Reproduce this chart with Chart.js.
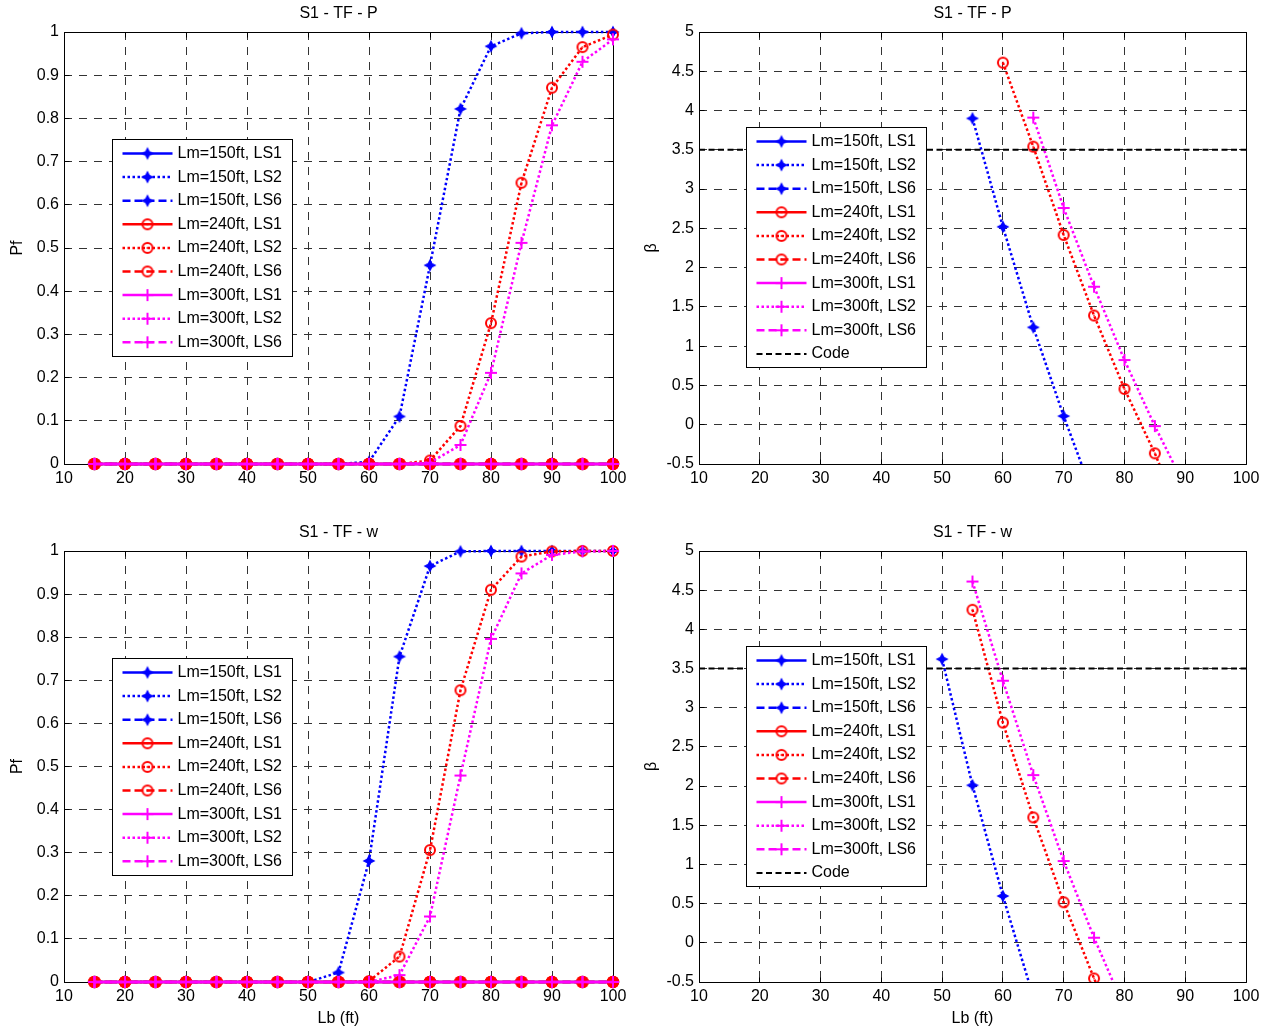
<!DOCTYPE html>
<html>
<head>
<meta charset="utf-8">
<title>S1 - TF reliability</title>
<script src="https://cdn.jsdelivr.net/npm/chart.js"></script>
<style>
  html, body { margin: 0; padding: 0; background: #fff; overflow: hidden; }
  #fig { position: relative; width: 1270px; height: 1031px; }
  .panel { position: absolute; }
  .panel canvas { display: block; }
</style>
</head>
<body>
<div id="fig">
  <div class="panel" style="left:0;top:0"><canvas id="pfP" width="640" height="516"></canvas></div>
  <div class="panel" style="left:640px;top:0"><canvas id="betaP" width="630" height="516"></canvas></div>
  <div class="panel" style="left:0;top:516px"><canvas id="pfW" width="640" height="515"></canvas></div>
  <div class="panel" style="left:640px;top:516px"><canvas id="betaW" width="630" height="515"></canvas></div>
</div>
<script>
// Bridge length Lb (ft) at which every case was evaluated
const lb = [15, 20, 25, 30, 35, 40, 45, 50, 55, 60, 65, 70, 75, 80, 85, 90, 95, 100];

// Axis ticks
const xTicks = [10, 20, 30, 40, 50, 60, 70, 80, 90, 100];
const pfTicks = [0, 0.1, 0.2, 0.3, 0.4, 0.5, 0.6, 0.7, 0.8, 0.9, 1];
const betaTicks = [-0.5, 0, 0.5, 1, 1.5, 2, 2.5, 3, 3.5, 4, 4.5, 5];

// Series names
const lmNames = ['Lm=150ft', 'Lm=240ft', 'Lm=300ft'];
const lsNames = ['LS1', 'LS2', 'LS6'];

// LS1 and LS6 never fail over this range: Pf = 0, beta unbounded (not drawn)
const pfNoFail = [0, 0, 0, 0, 0, 0, 0, 0, 0, 0, 0, 0, 0, 0, 0, 0, 0, 0];
const betaNoFail = [null, null, null, null, null, null, null, null, null, null, null, null, null, null, null, null, null, null];

// Probability of failure, TF - P, LS2
const pfP150LS2 = [0, 0, 0, 0, 0, 0, 0, 0, 0, 0.005, 0.11, 0.46, 0.822, 0.967, 0.997, 1, 1, 1];
const pfP240LS2 = [0, 0, 0, 0, 0, 0, 0, 0, 0, 0, 0, 0.008, 0.088, 0.326, 0.651, 0.871, 0.965, 0.994];
const pfP300LS2 = [0, 0, 0, 0, 0, 0, 0, 0, 0, 0, 0, 0.003, 0.044, 0.211, 0.512, 0.784, 0.931, 0.983];

// Reliability index, TF - P, LS2
const betaP150LS2 = [null, null, null, null, null, null, null, null, 3.90, 2.52, 1.24, 0.11, -0.93, null, null, null, null, null];
const betaP240LS2 = [null, null, null, null, null, null, null, null, null, 4.61, 3.54, 2.415, 1.39, 0.455, -0.364, -1.3, null, null];
const betaP300LS2 = [null, null, null, null, null, null, null, null, null, null, 3.91, 2.76, 1.757, 0.824, -0.017, -0.79, null, null];

// Probability of failure, TF - w, LS2
const pfW150LS2 = [0, 0, 0, 0, 0, 0, 0, 0, 0.022, 0.281, 0.755, 0.965, 0.999, 1, 1, 1, 1, 1];
const pfW240LS2 = [0, 0, 0, 0, 0, 0, 0, 0, 0, 0.002, 0.059, 0.306, 0.677, 0.910, 0.987, 0.999, 1, 1];
const pfW300LS2 = [0, 0, 0, 0, 0, 0, 0, 0, 0, 0, 0.016, 0.152, 0.479, 0.796, 0.948, 0.991, 0.999, 1];

// Reliability index, TF - w, LS2
const betaW150LS2 = [null, null, null, null, null, null, null, 3.62, 2.01, 0.597, -0.69, null, null, null, null, null, null, null];
const betaW240LS2 = [null, null, null, null, null, null, null, null, 4.25, 2.81, 1.60, 0.517, -0.455, -1.34, null, null, null, null];
const betaW300LS2 = [null, null, null, null, null, null, null, null, 4.61, 3.345, 2.14, 1.044, 0.065, -0.83, null, null, null, null];

// Code target reliability
const codeLb = [10, 100];
const codeBeta = [3.5, 3.5];

// ---------------------------------------------------------------------------
const FONT = '"Liberation Sans", Arial, Helvetica, sans-serif';
const FONT_SIZE = 16;
const BLUE = '#0000ff', RED = '#ff0000', MAGENTA = '#ff00ff';
const lineDash = { LS1: [], LS2: [2.5, 2.5], LS6: [8, 4] };

Chart.defaults.font.family = FONT;
Chart.defaults.font.size = FONT_SIZE;
Chart.defaults.color = '#000';

// Marker glyphs drawn once on small canvases
function glyph(draw) {
  const c = document.createElement('canvas');
  c.width = 16; c.height = 16;
  const g = c.getContext('2d');
  g.translate(8, 8);
  draw(g);
  return c;
}
const mkStar = glyph(g => {
  g.fillStyle = BLUE;
  g.beginPath();
  g.moveTo(0, -6.5); g.lineTo(2.2, -2.2); g.lineTo(6.5, 0); g.lineTo(2.2, 2.2);
  g.lineTo(0, 6.5); g.lineTo(-2.2, 2.2); g.lineTo(-6.5, 0); g.lineTo(-2.2, -2.2);
  g.closePath();
  g.fill();
});
const mkRing = glyph(g => {
  g.strokeStyle = RED; g.lineWidth = 2;
  g.beginPath(); g.arc(0, 0, 5, 0, Math.PI * 2); g.stroke();
  g.fillStyle = RED; g.fillRect(-0.8, -0.8, 1.6, 1.6);
});
const mkDisc = glyph(g => {
  g.fillStyle = RED;
  g.beginPath(); g.arc(0, 0, 6.2, 0, Math.PI * 2); g.fill();
});
const mkPlus = glyph(g => {
  g.strokeStyle = MAGENTA; g.lineWidth = 2;
  g.beginPath();
  g.moveTo(-6, 0); g.lineTo(6, 0); g.moveTo(0, -6); g.lineTo(0, 6);
  g.stroke();
});

// Axes box with inward ticks on all four sides, plus the panel title
const frame = {
  id: 'frame',
  beforeDatasetsDraw(chart) {
    const { ctx, chartArea: a, scales } = chart;
    const al = v => Math.round(v - 0.5) + 0.5;
    const L = al(a.left), R = al(a.right), T = al(a.top), B = al(a.bottom);
    ctx.save();
    ctx.strokeStyle = '#000';
    ctx.lineWidth = 1;
    ctx.setLineDash([]);
    ctx.beginPath();
    ctx.rect(L, T, R - L, B - T);
    scales.x.ticks.forEach(t => {
      const px = al(scales.x.getPixelForValue(t.value));
      ctx.moveTo(px, B); ctx.lineTo(px, B - 5);
      ctx.moveTo(px, T); ctx.lineTo(px, T + 5);
    });
    scales.y.ticks.forEach(t => {
      const py = al(scales.y.getPixelForValue(t.value));
      ctx.moveTo(L, py); ctx.lineTo(L + 5, py);
      ctx.moveTo(R, py); ctx.lineTo(R - 5, py);
    });
    ctx.stroke();
    ctx.restore();
  },
  afterDraw(chart, args, opts) {
    const { ctx, chartArea: a } = chart;
    ctx.save();
    ctx.fillStyle = '#000';
    ctx.font = FONT_SIZE + 'px ' + FONT;
    ctx.textAlign = 'center';
    ctx.textBaseline = 'middle';
    ctx.fillText(opts.text, (a.left + a.right) / 2, a.top - 18);
    ctx.restore();
  }
};

// Boxed legend inside the axes
const boxLegend = {
  id: 'boxLegend',
  afterDatasetsDraw(chart, args, opts) {
    const { ctx, chartArea: a } = chart;
    const items = chart.data.datasets;
    const rowH = 23.6;
    const x0 = Math.round(a.left + opts.dx) + 0.5;
    const y0 = Math.round(a.top + opts.dy) + 0.5;
    const w = 180, h = Math.round(28 + (items.length - 1) * rowH);
    ctx.save();
    ctx.fillStyle = '#fff';
    ctx.fillRect(x0, y0, w, h);
    ctx.strokeStyle = '#000';
    ctx.lineWidth = 1;
    ctx.setLineDash([]);
    ctx.strokeRect(x0, y0, w, h);
    items.forEach((ds, i) => {
      const y = y0 + 14 + i * rowH;
      ctx.strokeStyle = ds.borderColor;
      ctx.lineWidth = ds.borderWidth;
      ctx.setLineDash(ds.borderDash || []);
      ctx.beginPath();
      ctx.moveTo(x0 + 10, y);
      ctx.lineTo(x0 + 60, y);
      ctx.stroke();
      ctx.setLineDash([]);
      if (ds.legendMarker) ctx.drawImage(ds.legendMarker, x0 + 35 - 8, y - 8);
      ctx.fillStyle = '#000';
      ctx.font = FONT_SIZE + 'px ' + FONT;
      ctx.textAlign = 'left';
      ctx.textBaseline = 'middle';
      ctx.fillText(ds.label, x0 + 65, y);
    });
    ctx.restore();
  }
};

// Nine curves per panel: three main spans x three limit states
function series(groups, pfPanel) {
  const colors = [BLUE, RED, MAGENTA];
  const marks = [mkStar, mkRing, mkPlus];
  const out = [];
  lmNames.forEach((lm, a) => {
    lsNames.forEach((ls, b) => {
      let mk = marks[a];
      if (pfPanel && a === 1 && b !== 1) mk = mkDisc;
      out.push({ label: lm + ', ' + ls, values: groups[a][b], color: colors[a],
                 dash: lineDash[ls], marker: mk, legendMarker: marks[a] });
    });
  });
  return out;
}

function makePanel(id, p) {
  const n = p.series.length;
  const datasets = p.series.map((s, i) => ({
    label: s.label,
    data: lb.map((x, k) => ({ x: x, y: s.values[k] })),
    borderColor: s.color,
    backgroundColor: s.color,
    borderWidth: 2.5,
    borderDash: s.dash,
    borderCapStyle: 'butt',
    pointStyle: s.marker,
    pointRadius: 6,
    pointHoverRadius: 6,
    legendMarker: s.legendMarker,
    order: n - i + 1,
    clip: p.clip,
    tension: 0,
    fill: false
  }));
  if (p.code) {
    datasets.push({
      label: 'Code',
      data: codeLb.map((x, k) => ({ x: x, y: codeBeta[k] })),
      borderColor: '#000',
      backgroundColor: '#000',
      borderWidth: 2,
      borderDash: [6, 3.5],
      pointRadius: 0,
      legendMarker: null,
      order: 0,
      clip: p.clip,
      fill: false
    });
  }
  const tickFont = { family: FONT, size: FONT_SIZE };
  new Chart(document.getElementById(id), {
    type: 'line',
    data: { datasets: datasets },
    options: {
      responsive: false,
      animation: false,
      events: [],
      layout: { padding: { left: 0, top: p.top, right: p.right, bottom: 0 } },
      plugins: {
        legend: { display: false },
        tooltip: { enabled: false },
        frame: { text: p.title },
        boxLegend: { dx: p.legendDx, dy: p.legendDy }
      },
      scales: {
        x: {
          type: 'linear',
          min: 10, max: 100,
          afterBuildTicks: s => { s.ticks = xTicks.map(v => ({ value: v })); },
          afterFit: s => { s.height = p.xHeight; },
          grid: { color: '#333', lineWidth: 1, drawTicks: false },
          border: { display: false, dash: [8, 7] },
          ticks: { font: tickFont, color: '#000', padding: 4.5, maxRotation: 0, minRotation: 0,
                   autoSkip: false, callback: v => String(v) },
          title: { display: !!p.xTitle, text: p.xTitle || '', font: tickFont, color: '#000',
                   padding: { top: 0, bottom: 3 } }
        },
        y: {
          type: 'linear',
          min: p.yTicks[0], max: p.yTicks[p.yTicks.length - 1],
          afterBuildTicks: s => { s.ticks = p.yTicks.map(v => ({ value: v })); },
          afterFit: s => { s.width = p.yWidth; },
          grid: { color: '#333', lineWidth: 1, drawTicks: false },
          border: { display: false, dash: [8, 7] },
          ticks: { font: tickFont, color: '#000', padding: 5, autoSkip: false,
                   callback: v => String(v) },
          title: { display: true, text: p.yTitle, font: tickFont, color: '#000',
                   padding: { top: p.yTitlePad, bottom: 0 } }
        }
      }
    },
    plugins: [frame, boxLegend]
  });
}

makePanel('pfP', {
  title: 'S1 - TF - P', yTitle: 'Pf', yTicks: pfTicks,
  series: series([[pfNoFail, pfP150LS2, pfNoFail], [pfNoFail, pfP240LS2, pfNoFail], [pfNoFail, pfP300LS2, pfNoFail]], true),
  top: 32, right: 27, xHeight: 52, yWidth: 64, yTitlePad: 8.4,
  clip: false, legendDx: 48, legendDy: 107
});
makePanel('betaP', {
  title: 'S1 - TF - P', yTitle: 'β', yTicks: betaTicks, code: true,
  series: series([[betaNoFail, betaP150LS2, betaNoFail], [betaNoFail, betaP240LS2, betaNoFail], [betaNoFail, betaP300LS2, betaNoFail]], false),
  top: 32, right: 24, xHeight: 52, yWidth: 59, yTitlePad: 2.4,
  clip: { left: 10, right: 10, top: 10, bottom: 0 }, legendDx: 47, legendDy: 95
});
makePanel('pfW', {
  title: 'S1 - TF - w', yTitle: 'Pf', xTitle: 'Lb (ft)', yTicks: pfTicks,
  series: series([[pfNoFail, pfW150LS2, pfNoFail], [pfNoFail, pfW240LS2, pfNoFail], [pfNoFail, pfW300LS2, pfNoFail]], true),
  top: 35, right: 27, xHeight: 49, yWidth: 64, yTitlePad: 8.4,
  clip: false, legendDx: 48, legendDy: 107
});
makePanel('betaW', {
  title: 'S1 - TF - w', yTitle: 'β', xTitle: 'Lb (ft)', yTicks: betaTicks, code: true,
  series: series([[betaNoFail, betaW150LS2, betaNoFail], [betaNoFail, betaW240LS2, betaNoFail], [betaNoFail, betaW300LS2, betaNoFail]], false),
  top: 35, right: 24, xHeight: 49, yWidth: 59, yTitlePad: 2.4,
  clip: { left: 10, right: 10, top: 10, bottom: 0 }, legendDx: 47, legendDy: 95
});
</script>
</body>
</html>
